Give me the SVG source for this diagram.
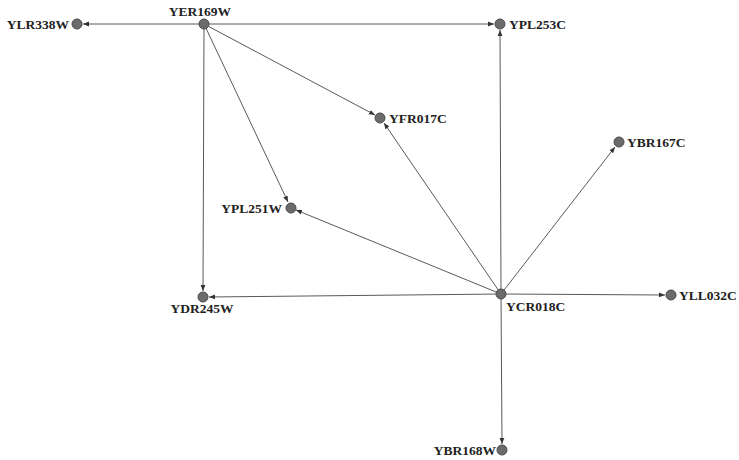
<svg xmlns="http://www.w3.org/2000/svg" width="739" height="460" viewBox="0 0 739 460">
<style>
.e{stroke:#5a5a5a;stroke-width:1;fill:none;marker-end:url(#a)}
.n{fill:#6b6b6b;stroke:#4a4a4a;stroke-width:1}
text{font-family:"Liberation Serif","Times New Roman",serif;font-weight:bold;font-size:13.5px;fill:#222}
</style>
<defs>
<marker id="a" viewBox="0 0 10 10" refX="10" refY="5" markerWidth="6" markerHeight="6" orient="auto" markerUnits="userSpaceOnUse">
<path d="M0,1 L10,5 L0,9 z" fill="#333"/>
</marker>
</defs>
<rect width="739" height="460" fill="#fff"/>
<g id="edges">
<line class="e" x1="204" y1="24" x2="83" y2="24"/>
<line class="e" x1="204" y1="24" x2="494" y2="24"/>
<line class="e" x1="204" y1="24" x2="375" y2="115"/>
<line class="e" x1="204" y1="24" x2="288" y2="202"/>
<line class="e" x1="204" y1="24" x2="203" y2="291"/>
<line class="e" x1="501" y1="294" x2="500" y2="30"/>
<line class="e" x1="501" y1="294" x2="384" y2="123"/>
<line class="e" x1="501" y1="294" x2="615" y2="147"/>
<line class="e" x1="501" y1="294" x2="296" y2="210"/>
<line class="e" x1="501" y1="294" x2="209" y2="297"/>
<line class="e" x1="501" y1="294" x2="665" y2="295"/>
<line class="e" x1="501" y1="294" x2="502" y2="444"/>
</g>
<g id="YER169W"><circle class="n" cx="204" cy="24" r="5"/><text x="200" y="16" text-anchor="middle">YER169W</text></g>
<g id="YLR338W"><circle class="n" cx="77" cy="24" r="5"/><text x="69" y="29" text-anchor="end">YLR338W</text></g>
<g id="YPL253C"><circle class="n" cx="500" cy="24" r="5"/><text x="509" y="29">YPL253C</text></g>
<g id="YFR017C"><circle class="n" cx="380" cy="118" r="5"/><text x="389" y="123">YFR017C</text></g>
<g id="YBR167C"><circle class="n" cx="619" cy="142" r="5"/><text x="627" y="147">YBR167C</text></g>
<g id="YPL251W"><circle class="n" cx="291" cy="208" r="5"/><text x="282" y="213" text-anchor="end">YPL251W</text></g>
<g id="YDR245W"><circle class="n" cx="203" cy="297" r="5"/><text x="202" y="313" text-anchor="middle">YDR245W</text></g>
<g id="YCR018C"><circle class="n" cx="501" cy="294" r="5"/><text x="506" y="311">YCR018C</text></g>
<g id="YLL032C"><circle class="n" cx="671" cy="295" r="5"/><text x="679" y="300">YLL032C</text></g>
<g id="YBR168W"><circle class="n" cx="502" cy="450" r="5"/><text x="496" y="455" text-anchor="end">YBR168W</text></g>
</svg>
